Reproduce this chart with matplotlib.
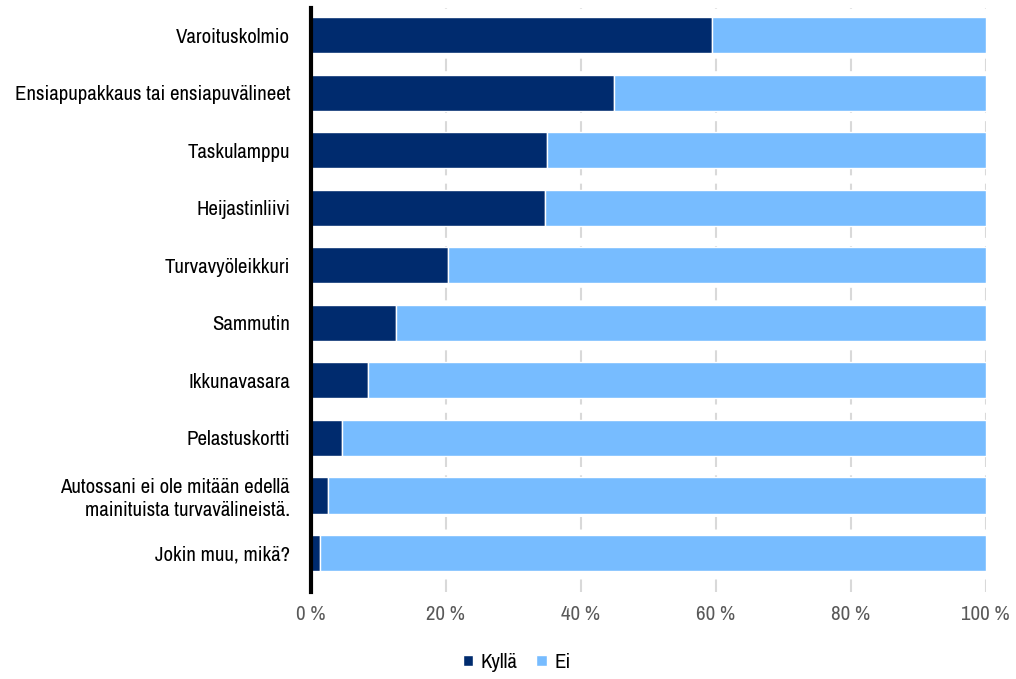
import matplotlib.pyplot as plt
import matplotlib
from matplotlib import font_manager
from matplotlib.ticker import FuncFormatter

categories = ['Varoituskolmio', 'Ensiapupakkaus tai ensiapuvälineet', 'Taskulamppu',
              'Heijastinliivi', 'Turvavyöleikkuri', 'Sammutin', 'Ikkunavasara',
              'Pelastuskortti', 'Autossani ei ole mitään edellä\nmainituista turvavälineistä.',
              'Jokin muu, mikä?']
kylla = [59.4, 45.0, 35.0, 34.7, 20.3, 12.6, 8.5, 4.6, 2.5, 1.3]
ei = [100 - v for v in kylla]

# look for a narrow face among the installed fonts
narrow = None
stretch = 'normal'
for f in font_manager.fontManager.ttflist:
    if 'Narrow' in f.name:
        narrow = f.name
        break
if narrow is None:
    for f in font_manager.fontManager.ttflist:
        if 'Condensed' in f.fname and 'Bold' not in f.fname and 'Oblique' not in f.fname:
            narrow = f.name
            stretch = f.stretch
            break
if narrow is None:
    narrow = 'DejaVu Sans'

matplotlib.rcParams['font.family'] = [narrow, 'DejaVu Sans']
matplotlib.rcParams['font.stretch'] = stretch

fig = plt.figure(figsize=(10.16, 6.79), dpi=100)
ax = fig.add_axes([0.306, 0.128, 0.664, 0.86])

y = list(range(len(categories)))
ax.barh(y, kylla, height=0.63, color='#002b6e', edgecolor='white', linewidth=1, label='Kyllä', zorder=3)
ax.barh(y, ei, left=kylla, height=0.63, color='#77bcff', edgecolor='white', linewidth=1, label='Ei', zorder=3)

ax.set_xlim(0, 100)
ax.set_ylim(9.68, -0.47)
ax.set_yticks(y)
ax.set_yticklabels(categories, fontsize=15, color='black', linespacing=1.25)
ax.set_xticks(range(0, 101, 20))
ax.xaxis.set_major_formatter(FuncFormatter(lambda v, p: '%d %%' % v))
ax.tick_params(axis='x', labelsize=15, labelcolor='#595959', length=0, pad=9)
ax.tick_params(axis='y', length=0, pad=15)
ax.grid(axis='x', color='#d9d9d9', linestyle=(0, (6, 4)), linewidth=1.5, zorder=0)

for s in ['top', 'right', 'bottom']:
    ax.spines[s].set_visible(False)
ax.spines['left'].set_linewidth(3)
ax.spines['left'].set_color('black')
ax.spines['left'].set_zorder(4)

ax.legend(loc='upper center', bbox_to_anchor=(0.305, -0.072), ncol=2, frameon=False,
          fontsize=15, handlelength=0.5, handleheight=0.5, handletextpad=0.35,
          columnspacing=0.9)

plt.savefig('out.png', dpi=100)
